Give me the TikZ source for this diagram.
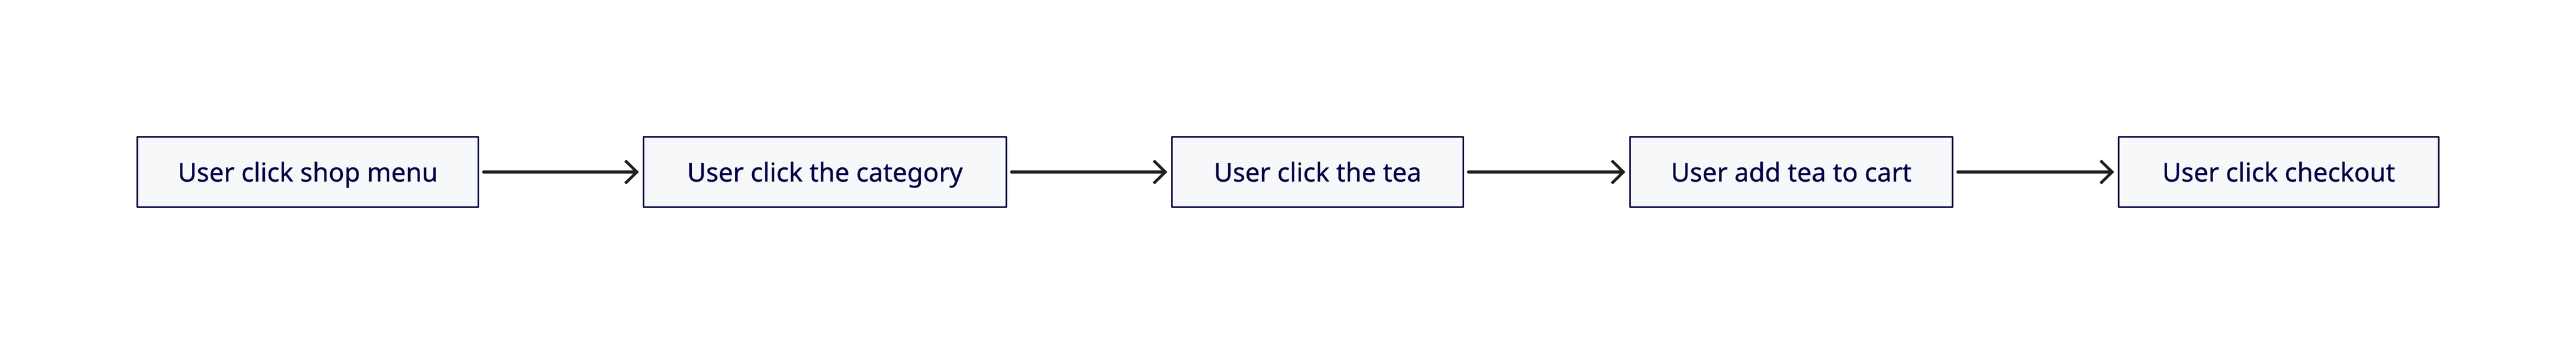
\documentclass[tikz,border=0pt]{standalone}
\usepackage{fontspec}
\setmainfont{Noto Sans}
\usepackage{tikz}
\usetikzlibrary{arrows.meta,positioning}
\definecolor{qqqqtt}{rgb}{0.02,0.0,0.27}
\definecolor{fafbfc}{rgb}{0.969,0.973,0.98}
\definecolor{ccqqcc}{rgb}{0.12,0.12,0.12}

\begin{document}
\begin{tikzpicture}[line cap=round,line join=round,>={Straight Barb[length=0.22cm,width=0.43cm]},x=1.0cm,y=1.0cm,
  stepbox/.style={draw=qqqqtt,fill=fafbfc,line width=0.95pt,minimum height=1.33cm,inner sep=0pt,text height=0.36cm,text depth=0cm,text=qqqqtt,font=\fontsize{13.95}{17}\selectfont\addfontfeature{FakeBold=0.6}}]
      \useasboundingbox (0,0) rectangle (48.7,6.5);
      \node[stepbox,minimum width=6.45cm] (shop) at (5.82,3.25) {User click shop menu};
      \node[stepbox,minimum width=6.86cm] (category) at (15.595,3.25) {User click the category};
      \node[stepbox,minimum width=5.51cm] (tea) at (24.91,3.25) {User click the tea};
      \node[stepbox,minimum width=6.10cm] (cart) at (33.865,3.25) {User add tea to cart};
      \node[stepbox,minimum width=6.05cm] (checkout) at (43.08,3.25) {User click checkout};
      \foreach \a/\b in {shop/category,category/tea,tea/cart,cart/checkout}
      \draw[->,color=ccqqcc,line width=1.5pt,shorten <=0.08cm,shorten >=0.07cm] (\a) -- (\b);
    \end{tikzpicture}
\end{document}
